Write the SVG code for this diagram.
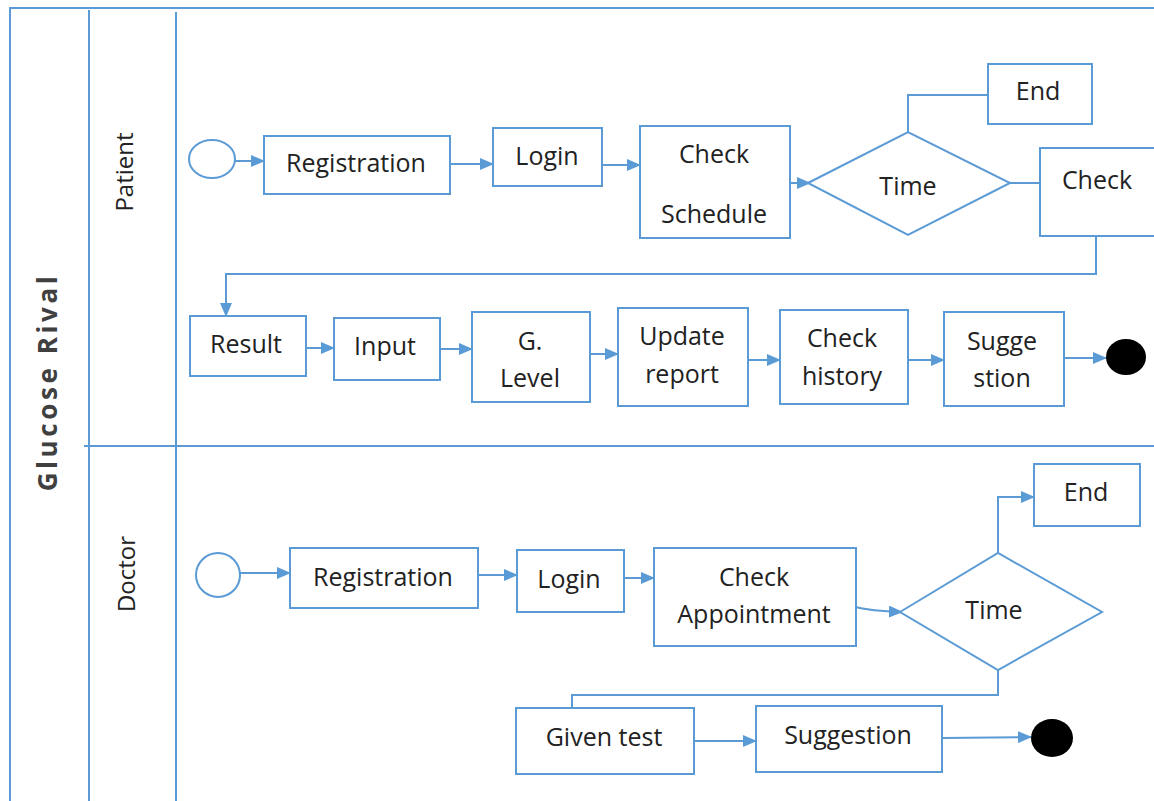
<svg xmlns="http://www.w3.org/2000/svg" width="1154" height="801" viewBox="0 0 1154 801">
<defs>
<marker id="arr" markerUnits="userSpaceOnUse" markerWidth="14" markerHeight="12" refX="13" refY="6" orient="auto">
<path d="M0,0 L14,6 L0,12 Z" fill="#5B9BD5"/>
</marker>
<style>
.ln{fill:none;stroke:#5B9BD5;stroke-width:2}
.bx{fill:#fff;stroke:#5B9BD5;stroke-width:2}
.t{font-family:"Open Sans","Liberation Sans",sans-serif;font-size:25px;fill:#222;text-anchor:middle}
.lane{font-family:"Open Sans","Liberation Sans",sans-serif;font-size:24px;fill:#222;text-anchor:middle}
.pool{font-family:"Open Sans","Liberation Sans",sans-serif;font-size:26px;font-weight:bold;letter-spacing:3.6px;fill:#404040;text-anchor:middle}
.arrow{fill:none;stroke:#5B9BD5;stroke-width:2;marker-end:url(#arr)}
</style>
</defs>
<rect width="1154" height="801" fill="#fff"/>
<g id="pool">
<path class="ln" d="M10,801 V8 H1154"/>
<path class="ln" d="M89,10 V801"/>
<path class="ln" d="M176,12 V801"/>
<path class="ln" d="M84,446 H1154"/>
<text class="pool" transform="translate(57,382) rotate(-90)">Glucose Rival</text>
<text class="lane" transform="translate(133,172) rotate(-90)">Patient</text>
<text class="lane" transform="translate(135,574) rotate(-90)">Doctor</text>
</g>
<g id="connectors">
<line class="arrow" x1="235" y1="161" x2="264" y2="161"/>
<line class="arrow" x1="450" y1="164" x2="493" y2="164"/>
<line class="arrow" x1="602" y1="165" x2="640" y2="165"/>
<line class="arrow" x1="790" y1="183" x2="810" y2="183"/>
<path class="ln" d="M908,132 V95 H988"/>
<path class="ln" d="M1010,183 H1040"/>
<path class="arrow" d="M1096,236 V274 H226 V316"/>
<line class="arrow" x1="306" y1="348" x2="334" y2="348"/>
<line class="arrow" x1="440" y1="349" x2="472" y2="349"/>
<line class="arrow" x1="590" y1="354" x2="618" y2="354"/>
<line class="arrow" x1="748" y1="360" x2="780" y2="360"/>
<line class="arrow" x1="908" y1="360" x2="944" y2="360"/>
<line class="arrow" x1="1064" y1="358" x2="1106" y2="358"/>
<line class="arrow" x1="240" y1="573" x2="290" y2="573"/>
<line class="arrow" x1="478" y1="575" x2="517" y2="575"/>
<line class="arrow" x1="624" y1="578" x2="654" y2="578"/>
<path class="arrow" d="M856,607 Q870,611 902,612"/>
<path class="arrow" d="M998,553 V497 H1034"/>
<path class="ln" d="M998,670 V695 H572 V716"/>
<line class="arrow" x1="694" y1="741" x2="756" y2="741"/>
<line class="arrow" x1="942" y1="738" x2="1031" y2="737"/>
</g>
<g id="p-start"><ellipse class="bx" cx="212" cy="159" rx="23" ry="19"/></g>
<g id="p-registration"><rect class="bx" x="264" y="136" width="186" height="58"/><text class="t" x="356" y="172">Registration</text></g>
<g id="p-login"><rect class="bx" x="493" y="128" width="109" height="58"/><text class="t" x="547" y="165">Login</text></g>
<g id="p-checkschedule"><rect class="bx" x="640" y="126" width="150" height="112"/><text class="t" x="714" y="163">Check</text><text class="t" x="714" y="223">Schedule</text></g>
<g id="p-time"><polygon class="bx" points="808,183 908,132 1010,183 908,235"/><text class="t" x="908" y="195">Time</text></g>
<g id="p-end"><rect class="bx" x="988" y="64" width="104" height="60"/><text class="t" x="1038" y="100">End</text></g>
<g id="p-check"><rect class="bx" x="1040" y="148" width="120" height="88"/><text class="t" x="1097" y="189">Check</text></g>
<g id="p-result"><rect class="bx" x="190" y="316" width="116" height="60"/><text class="t" x="246" y="353">Result</text></g>
<g id="p-input"><rect class="bx" x="334" y="318" width="106" height="62"/><text class="t" x="385" y="355">Input</text></g>
<g id="p-glevel"><rect class="bx" x="472" y="312" width="118" height="90"/><text class="t" x="530" y="350">G.</text><text class="t" x="530" y="387">Level</text></g>
<g id="p-update"><rect class="bx" x="618" y="308" width="130" height="98"/><text class="t" x="682" y="345">Update</text><text class="t" x="682" y="383">report</text></g>
<g id="p-history"><rect class="bx" x="780" y="310" width="128" height="94"/><text class="t" x="842" y="347">Check</text><text class="t" x="842" y="385">history</text></g>
<g id="p-suggestion"><rect class="bx" x="944" y="312" width="120" height="94"/><text class="t" x="1002" y="350">Sugge</text><text class="t" x="1002" y="387">stion</text></g>
<g id="p-final"><ellipse cx="1126" cy="357" rx="20" ry="18" fill="#000"/></g>
<g id="d-start"><circle class="bx" cx="218" cy="575" r="22"/></g>
<g id="d-registration"><rect class="bx" x="290" y="548" width="188" height="60"/><text class="t" x="383" y="586">Registration</text></g>
<g id="d-login"><rect class="bx" x="517" y="550" width="107" height="62"/><text class="t" x="569" y="588">Login</text></g>
<g id="d-checkappointment"><rect class="bx" x="654" y="548" width="202" height="98"/><text class="t" x="754" y="586">Check</text><text class="t" x="754" y="623">Appointment</text></g>
<g id="d-time"><polygon class="bx" points="900,612 998,553 1102,612 998,670"/><text class="t" x="994" y="619">Time</text></g>
<g id="d-end"><rect class="bx" x="1034" y="464" width="106" height="62"/><text class="t" x="1086" y="501">End</text></g>
<g id="d-giventest"><rect class="bx" x="516" y="708" width="178" height="66"/><text class="t" x="604" y="746">Given test</text></g>
<g id="d-suggestion"><rect class="bx" x="756" y="706" width="186" height="66"/><text class="t" x="848" y="744">Suggestion</text></g>
<g id="d-final"><ellipse cx="1052" cy="738" rx="21" ry="19" fill="#000"/></g>
</svg>
